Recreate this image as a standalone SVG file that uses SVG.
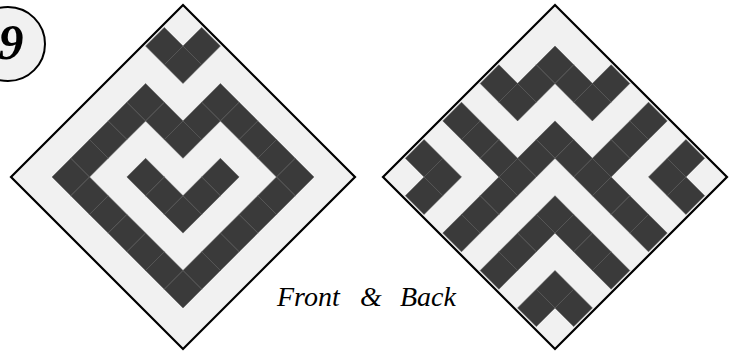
<svg xmlns="http://www.w3.org/2000/svg" width="736" height="356" viewBox="0 0 736 356">
<style>
.bg{fill:#f1f1f1}
.d{fill:#3a3a3a;stroke:#555;stroke-width:0.02}
.edge{fill:none;stroke:#000;stroke-width:2.2;stroke-linejoin:miter}
.num{font-family:"Liberation Serif",serif;font-weight:bold;font-style:italic;font-size:50px;fill:#000}
.cap{font-family:"Liberation Serif",serif;font-style:italic;font-size:28px;fill:#000}
</style>
<rect width="736" height="356" fill="#fff"/>
<g id="badge">
<circle cx="8" cy="44" r="37" fill="#f1f1f1" stroke="#000" stroke-width="2"/>
<text class="num" x="11" y="59" text-anchor="middle">9</text>
</g>
<g id="front">
<polygon class="bg" points="183,5 355,177 183,349 11,177"/>
<g transform="translate(183 177) rotate(45) scale(26.45) translate(-4.5 -4.5)">
<rect class="d" x="1" y="0" width="1" height="1"/>
<rect class="d" x="0" y="1" width="1" height="1"/>
<rect class="d" x="1" y="1" width="1" height="1"/>
<rect class="d" x="3" y="1" width="1" height="1"/>
<rect class="d" x="4" y="1" width="1" height="1"/>
<rect class="d" x="5" y="1" width="1" height="1"/>
<rect class="d" x="6" y="1" width="1" height="1"/>
<rect class="d" x="7" y="1" width="1" height="1"/>
<rect class="d" x="3" y="2" width="1" height="1"/>
<rect class="d" x="7" y="2" width="1" height="1"/>
<rect class="d" x="1" y="3" width="1" height="1"/>
<rect class="d" x="2" y="3" width="1" height="1"/>
<rect class="d" x="3" y="3" width="1" height="1"/>
<rect class="d" x="5" y="3" width="1" height="1"/>
<rect class="d" x="7" y="3" width="1" height="1"/>
<rect class="d" x="1" y="4" width="1" height="1"/>
<rect class="d" x="5" y="4" width="1" height="1"/>
<rect class="d" x="7" y="4" width="1" height="1"/>
<rect class="d" x="1" y="5" width="1" height="1"/>
<rect class="d" x="3" y="5" width="1" height="1"/>
<rect class="d" x="4" y="5" width="1" height="1"/>
<rect class="d" x="5" y="5" width="1" height="1"/>
<rect class="d" x="7" y="5" width="1" height="1"/>
<rect class="d" x="1" y="6" width="1" height="1"/>
<rect class="d" x="7" y="6" width="1" height="1"/>
<rect class="d" x="1" y="7" width="1" height="1"/>
<rect class="d" x="2" y="7" width="1" height="1"/>
<rect class="d" x="3" y="7" width="1" height="1"/>
<rect class="d" x="4" y="7" width="1" height="1"/>
<rect class="d" x="5" y="7" width="1" height="1"/>
<rect class="d" x="6" y="7" width="1" height="1"/>
<rect class="d" x="7" y="7" width="1" height="1"/>
</g>
<polygon class="edge" points="183,5 355,177 183,349 11,177"/>
</g>
<g id="back">
<polygon class="bg" points="555,5 727,177 555,349 383,177"/>
<g transform="translate(555 177) rotate(45) scale(26.45) translate(-4.5 -4.5)">
<rect class="d" x="3" y="0" width="1" height="1"/>
<rect class="d" x="5" y="0" width="1" height="1"/>
<rect class="d" x="7" y="0" width="1" height="1"/>
<rect class="d" x="1" y="1" width="1" height="1"/>
<rect class="d" x="2" y="1" width="1" height="1"/>
<rect class="d" x="3" y="1" width="1" height="1"/>
<rect class="d" x="5" y="1" width="1" height="1"/>
<rect class="d" x="7" y="1" width="1" height="1"/>
<rect class="d" x="8" y="1" width="1" height="1"/>
<rect class="d" x="1" y="2" width="1" height="1"/>
<rect class="d" x="5" y="2" width="1" height="1"/>
<rect class="d" x="0" y="3" width="1" height="1"/>
<rect class="d" x="1" y="3" width="1" height="1"/>
<rect class="d" x="3" y="3" width="1" height="1"/>
<rect class="d" x="4" y="3" width="1" height="1"/>
<rect class="d" x="5" y="3" width="1" height="1"/>
<rect class="d" x="6" y="3" width="1" height="1"/>
<rect class="d" x="7" y="3" width="1" height="1"/>
<rect class="d" x="8" y="3" width="1" height="1"/>
<rect class="d" x="3" y="4" width="1" height="1"/>
<rect class="d" x="0" y="5" width="1" height="1"/>
<rect class="d" x="1" y="5" width="1" height="1"/>
<rect class="d" x="2" y="5" width="1" height="1"/>
<rect class="d" x="3" y="5" width="1" height="1"/>
<rect class="d" x="5" y="5" width="1" height="1"/>
<rect class="d" x="6" y="5" width="1" height="1"/>
<rect class="d" x="7" y="5" width="1" height="1"/>
<rect class="d" x="8" y="5" width="1" height="1"/>
<rect class="d" x="3" y="6" width="1" height="1"/>
<rect class="d" x="5" y="6" width="1" height="1"/>
<rect class="d" x="0" y="7" width="1" height="1"/>
<rect class="d" x="1" y="7" width="1" height="1"/>
<rect class="d" x="3" y="7" width="1" height="1"/>
<rect class="d" x="5" y="7" width="1" height="1"/>
<rect class="d" x="7" y="7" width="1" height="1"/>
<rect class="d" x="8" y="7" width="1" height="1"/>
<rect class="d" x="1" y="8" width="1" height="1"/>
<rect class="d" x="3" y="8" width="1" height="1"/>
<rect class="d" x="5" y="8" width="1" height="1"/>
<rect class="d" x="7" y="8" width="1" height="1"/>
</g>
<polygon class="edge" points="555,5 727,177 555,349 383,177"/>
</g>
<g id="caption">
<text class="cap" y="306"><tspan x="277">Front</tspan><tspan x="360">&amp;</tspan><tspan x="400">Back</tspan></text>
</g>
</svg>
